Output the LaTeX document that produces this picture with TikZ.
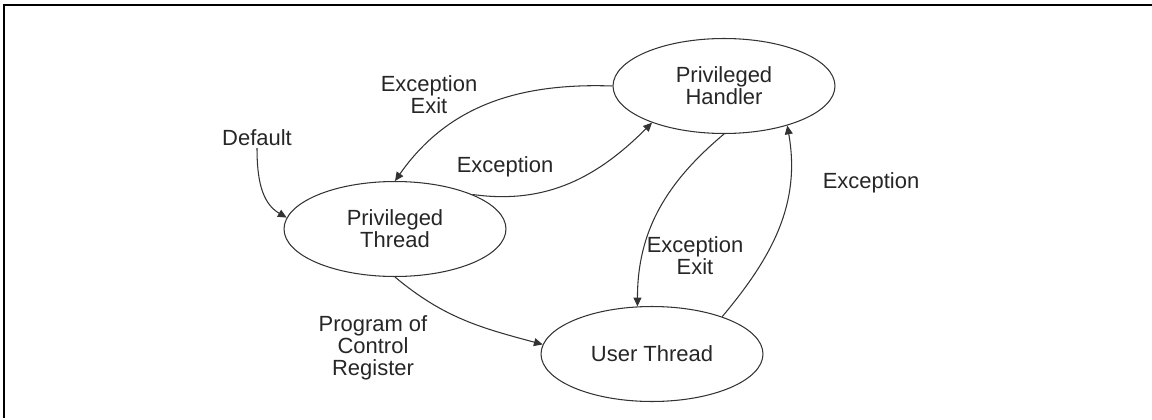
\documentclass[tikz,border=0pt]{standalone}
\usepackage{fontspec}
\setmainfont{Liberation Sans}
\usetikzlibrary{shapes.geometric, arrows.meta}
\tikzstyle{mode} = [ellipse, minimum width=4.44cm, minimum height=1.9cm, align=center, draw=black!80, line width=.6pt]
\tikzstyle{lbl} = [align=center, inner sep=1pt]
\tikzstyle{arrow} = [black!80, line width=.6pt, -{Stealth[length=5pt,width=4.5pt,inset=0pt]}]

\begin{document}
\begin{tikzpicture}[x=0.02cm, y=-0.02cm, font=\fontsize{12.5}{12.5}\selectfont, text=black!85]
\useasboundingbox (0,0) rectangle (1152,419);
% frame
\draw[line width=1.4pt] (4,418) -- (4,5) -- (1152,5);

% modes
\node[mode] (ph) at (724,86) {Privileged\\Handler};
\node[mode] (pt) at (395,229) {Privileged\\Thread};
\node[mode] (ut) at (652,354) {User Thread};

% labels
\node[lbl] (def) at (257,138) {Default};
\node[lbl] (exexit) at (429,95) {Exception\\Exit};
\node[lbl] (exc) at (505,167) {Exception};
\node[lbl] (prog) at (373,348) {Program of\\Control\\Register};
\node[lbl] (exexit2) at (695,256) {Exception\\Exit};
\node[lbl] (exc2) at (871,183) {Exception};

% transitions
\draw[arrow] (def.south) to[out=-90, in=150] (pt.174);
\draw[arrow] (ph.west) to[out=178, in=55] (pt.north);
\draw[arrow] (pt.24) to[out=-8, in=225] (ph.207);
\draw[arrow] (ph.south) to[out=-140, in=90] (ut.107);
\draw[arrow] (ut.28) to[out=50, in=-80] (ph.-32);
\draw[arrow] (pt.south) to[out=-40, in=165] (ut.175);
\end{tikzpicture}
\end{document}
